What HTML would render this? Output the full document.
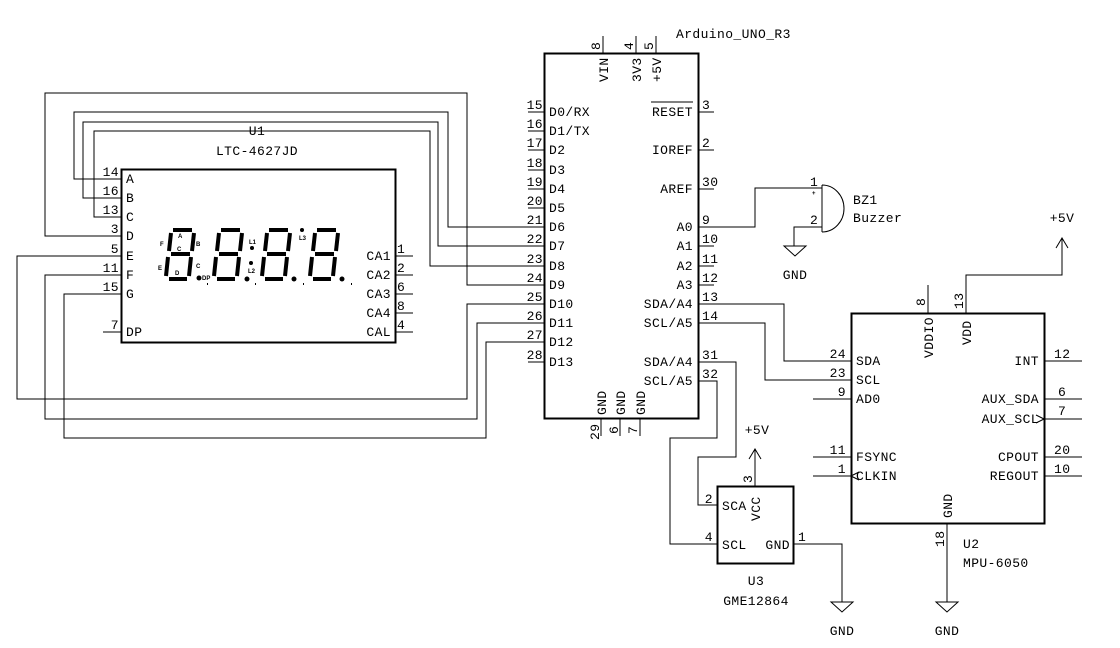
<!DOCTYPE html>
<html><head><meta charset="utf-8"><style>
html,body{margin:0;padding:0;background:#fff;}
svg{display:block;}
text{font-family:"Liberation Mono",monospace;font-size:13px;fill:#000;letter-spacing:0.4px;}
.s{font-size:6px;font-family:"Liberation Sans",sans-serif;font-weight:bold;letter-spacing:0;}
</style></head><body>
<svg width="1120" height="648" viewBox="0 0 1120 648" xmlns="http://www.w3.org/2000/svg">
<defs>
<g id="dg" stroke="#000" stroke-width="4" stroke-linecap="butt" fill="none">
<line x1="10" y1="2" x2="29" y2="2"/>
<line x1="31" y1="5" x2="29" y2="23"/>
<line x1="8" y1="5" x2="6" y2="23"/>
<line x1="8" y1="26" x2="27" y2="26"/>
<line x1="5" y1="29" x2="3" y2="48"/>
<line x1="28" y1="29" x2="26" y2="48"/>
<line x1="6" y1="51" x2="24" y2="51"/>
</g>
</defs>
<g stroke="#000" fill="none" stroke-width="1">
<!-- U1 box -->
<rect x="121.5" y="169.5" width="274" height="173" stroke-width="2"/>
<!-- U1 left pins -->
<path d="M103 179H121M103 198H121M103 217H121M103 236H121M103 256H121M103 275H121M103 294H121M103 332H121"/>
<path d="M395 256H413M395 275H413M395 294H413M395 313H413M395 332H413"/>
<!-- Arduino box -->
<rect x="544.5" y="53.5" width="154" height="365" stroke-width="2"/>
<path d="M528 112H544M528 131H544M528 150H544M528 170H544M528 189H544M528 208H544M528 227H544M528 246H544M528 266H544M528 285H544M528 304H544M528 323H544M528 342H544M528 362H544"/>
<path d="M698 112H714M698 150H714M698 189H714M698 227H714M698 246H714M698 266H714M698 285H714M698 304H714M698 323H714M698 362H714M698 381H714"/>
<path d="M603 36V53M636 36V53M656 36V53M601 418V436M620 418V436M640 418V436"/>
<!-- wires U1 to Arduino -->
<path d="M103 179H74V112H448V227H528"/>
<path d="M103 198H83V122H438V246H528"/>
<path d="M103 217H94V131H430V266H528"/>
<path d="M103 236H45V93H467V285H528"/>
<path d="M103 256H17V399H467V304H528"/>
<path d="M103 275H45V419H477V323H528"/>
<path d="M103 294H64V438H486V342H528"/>
<!-- buzzer -->
<path d="M714 227H755V188H822"/>
<path d="M822 185V232M822 185A22 23.5 0 0 1 822 232"/>
<path d="M822 227H794V246"/>
<path d="M784 246H806L795 256Z"/>
<!-- MPU box -->
<rect x="851.5" y="313.5" width="193" height="210" stroke-width="2"/>
<path d="M813 361H851M813 380H851M813 399H851M813 457H851M813 476H851"/>
<path d="M1044 361H1082M1044 399H1082M1044 419H1082M1044 457H1082M1044 476H1082"/>
<path d="M928 285V313M966 313V275H1062V238M1056 248L1062 238L1068 248"/>
<path d="M947 523V602M936 602H958L947 612Z"/>
<path d="M1044 419L1036 415M1044 419L1036 423M851 476L859 472M851 476L859 480"/>
<!-- I2C wires -->
<path d="M714 304H784V361H813"/>
<path d="M714 323H765V380H813"/>
<path d="M714 362H736V457H698V505H717"/>
<path d="M714 381H717V438H670V544H717"/>
<!-- U3 -->
<rect x="717.5" y="486.5" width="76" height="77" stroke-width="2"/>
<path d="M755 486V449M749 459L755 449L761 459"/>
<path d="M794 544H842V602M831 602H853L842 612Z"/>
</g>
<!-- 7-seg digits -->
<use href="#dg" x="163" y="228"/>
<use href="#dg" x="211" y="228"/>
<use href="#dg" x="259" y="228"/>
<use href="#dg" x="307" y="228"/>
<g fill="#000">
<circle cx="199" cy="278" r="2.5"/><circle cx="252" cy="248" r="2"/><circle cx="251" cy="263" r="2"/>
<circle cx="247" cy="279" r="2.5"/><circle cx="302" cy="230" r="2"/><circle cx="294" cy="279" r="2.5"/><circle cx="342" cy="279" r="2.5"/>
<rect x="207" y="283" width="1" height="2"/><rect x="255" y="283" width="1" height="2"/><rect x="303" y="283" width="1" height="2"/><rect x="351" y="283" width="1" height="2"/>
</g>
<text class="s" x="178" y="238">A</text><text class="s" x="196" y="246">B</text><text class="s" x="160" y="246">F</text>
<text class="s" x="177" y="251">C</text><text class="s" x="158" y="270">E</text><text class="s" x="196" y="268">C</text>
<text class="s" x="175" y="275">D</text><text class="s" x="202" y="280">DP</text><text class="s" x="249" y="244">L1</text>
<text class="s" x="248" y="273">L2</text><text class="s" x="299" y="240">L3</text>
<!-- U1 text -->
<text x="257" y="135" text-anchor="middle">U1</text>
<text x="257" y="155" text-anchor="middle">LTC-4627JD</text>
<g>
<text x="126" y="183">A</text><text x="126" y="202">B</text><text x="126" y="221">C</text><text x="126" y="240">D</text>
<text x="126" y="260">E</text><text x="126" y="279">F</text><text x="126" y="298">G</text><text x="126" y="336">DP</text>
</g>
<g text-anchor="end">
<text x="119" y="176">14</text><text x="119" y="195">16</text><text x="119" y="214">13</text><text x="119" y="233">3</text>
<text x="119" y="253">5</text><text x="119" y="272">11</text><text x="119" y="291">15</text><text x="119" y="329">7</text>
<text x="391" y="260">CA1</text><text x="391" y="279">CA2</text><text x="391" y="298">CA3</text><text x="391" y="317">CA4</text><text x="391" y="336">CAL</text>
</g>
<text x="397" y="253">1</text><text x="397" y="272">2</text><text x="397" y="291">6</text><text x="397" y="310">8</text><text x="397" y="329">4</text>
<!-- Arduino text -->
<text x="676" y="38">Arduino_UNO_R3</text>
<g text-anchor="end">
<text x="543" y="109">15</text><text x="543" y="128">16</text><text x="543" y="147">17</text><text x="543" y="167">18</text><text x="543" y="186">19</text><text x="543" y="205">20</text><text x="543" y="224">21</text><text x="543" y="243">22</text><text x="543" y="263">23</text><text x="543" y="282">24</text><text x="543" y="301">25</text><text x="543" y="320">26</text><text x="543" y="339">27</text><text x="543" y="359">28</text>
<text x="693" y="116">RESET</text><text x="693" y="154">IOREF</text><text x="693" y="193">AREF</text><text x="693" y="231">A0</text><text x="693" y="250">A1</text><text x="693" y="270">A2</text><text x="693" y="289">A3</text><text x="693" y="308">SDA/A4</text><text x="693" y="327">SCL/A5</text><text x="693" y="366">SDA/A4</text><text x="693" y="385">SCL/A5</text>
</g>
<line x1="651" y1="102" x2="693" y2="102" stroke="#000"/>
<g>
<text x="549" y="116">D0/RX</text><text x="549" y="135">D1/TX</text><text x="549" y="154">D2</text><text x="549" y="174">D3</text><text x="549" y="193">D4</text><text x="549" y="212">D5</text><text x="549" y="231">D6</text><text x="549" y="250">D7</text><text x="549" y="270">D8</text><text x="549" y="289">D9</text><text x="549" y="308">D10</text><text x="549" y="327">D11</text><text x="549" y="346">D12</text><text x="549" y="366">D13</text>
<text x="702" y="109">3</text><text x="702" y="147">2</text><text x="702" y="186">30</text><text x="702" y="224">9</text><text x="702" y="243">10</text><text x="702" y="263">11</text><text x="702" y="282">12</text><text x="702" y="301">13</text><text x="702" y="320">14</text><text x="702" y="359">31</text><text x="702" y="378">32</text>
</g>
<text transform="translate(608,82) rotate(-90)">VIN</text>
<text transform="translate(641,82) rotate(-90)">3V3</text>
<text transform="translate(661,82) rotate(-90)">+5V</text>
<text transform="translate(600,50) rotate(-90)">8</text>
<text transform="translate(633,50) rotate(-90)">4</text>
<text transform="translate(653,50) rotate(-90)">5</text>
<text transform="translate(606,415) rotate(-90)">GND</text>
<text transform="translate(625,415) rotate(-90)">GND</text>
<text transform="translate(645,415) rotate(-90)">GND</text>
<text transform="translate(599,440) rotate(-90)">29</text>
<text transform="translate(618,434) rotate(-90)">6</text>
<text transform="translate(637,434) rotate(-90)">7</text>
<!-- buzzer text -->
<text x="810" y="186">1</text><text class="s" x="812" y="195">+</text><text x="810" y="224">2</text>
<text x="853" y="204">BZ1</text><text x="853" y="222">Buzzer</text>
<text x="795" y="279" text-anchor="middle">GND</text>
<!-- MPU text -->
<text x="1062" y="222" text-anchor="middle">+5V</text>
<g text-anchor="end">
<text x="846" y="358">24</text><text x="846" y="377">23</text><text x="846" y="396">9</text><text x="846" y="454">11</text><text x="846" y="473">1</text>
<text x="1039" y="365">INT</text><text x="1039" y="403">AUX_SDA</text><text x="1039" y="423">AUX_SCL</text><text x="1039" y="461">CPOUT</text><text x="1039" y="480">REGOUT</text>
</g>
<text x="856" y="365">SDA</text><text x="856" y="384">SCL</text><text x="856" y="403">AD0</text><text x="856" y="461">FSYNC</text><text x="856" y="480">CLKIN</text>
<text x="1054" y="358">12</text><text x="1058" y="396">6</text><text x="1058" y="415">7</text><text x="1054" y="454">20</text><text x="1054" y="473">10</text>
<text transform="translate(933,358) rotate(-90)">VDDIO</text>
<text transform="translate(971,345) rotate(-90)">VDD</text>
<text transform="translate(925,306) rotate(-90)">8</text>
<text transform="translate(963,309) rotate(-90)">13</text>
<text transform="translate(952,518) rotate(-90)">GND</text>
<text transform="translate(944,547) rotate(-90)">18</text>
<text x="963" y="548">U2</text><text x="963" y="567">MPU-6050</text>
<text x="947" y="635" text-anchor="middle">GND</text>
<!-- U3 text -->
<text x="757" y="434" text-anchor="middle">+5V</text>
<text x="722" y="510">SCA</text><text x="722" y="549">SCL</text><text x="790" y="549" text-anchor="end">GND</text>
<text transform="translate(760,521) rotate(-90)">VCC</text>
<text transform="translate(752,483) rotate(-90)">3</text>
<text x="713" y="503" text-anchor="end">2</text><text x="713" y="541" text-anchor="end">4</text><text x="798" y="541">1</text>
<text x="756" y="585" text-anchor="middle">U3</text><text x="756" y="605" text-anchor="middle">GME12864</text>
<text x="842" y="635" text-anchor="middle">GND</text>
</svg>
</body></html>
